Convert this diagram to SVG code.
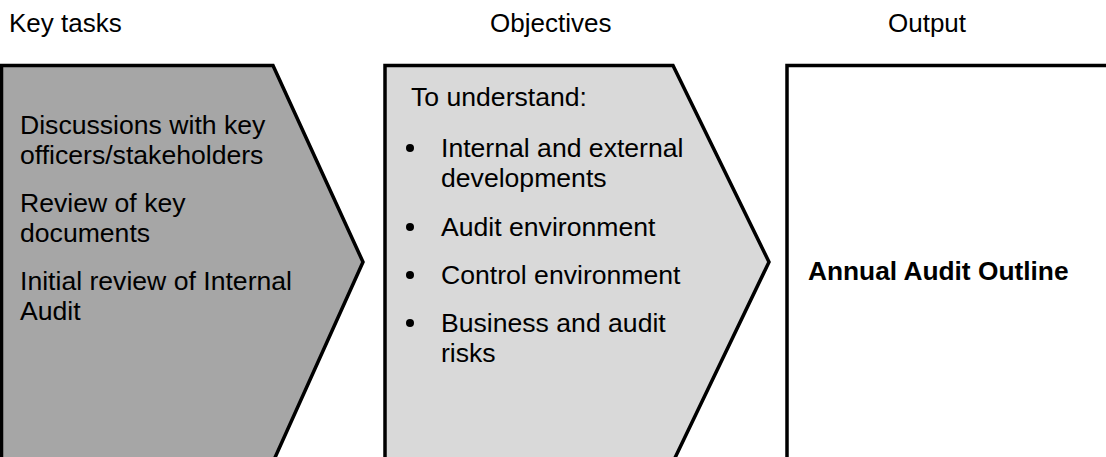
<svg xmlns="http://www.w3.org/2000/svg" width="1106" height="457" viewBox="0 0 1106 457">
  <style>
    text { font-family: "Liberation Sans", Arial, sans-serif; font-size: 26.6px; fill: #000; }
    .head { font-size: 26px; }
    .bold { font-weight: bold; font-size: 26.3px; }
    .shape { stroke: #000; stroke-width: 3.5; stroke-linejoin: miter; }
    .dark { fill: #a6a6a6; }
    .light { fill: #d9d9d9; }
    .white { fill: #fff; }
  </style>

  <!-- column headings -->
  <g id="headings">
    <text class="head" x="9" y="32">Key tasks</text>
    <text class="head" x="490" y="32">Objectives</text>
    <text class="head" x="888" y="32">Output</text>
  </g>

  <!-- key tasks chevron -->
  <g id="key-tasks">
    <polygon class="shape dark" points="1.5,65.5 273,65.5 363,262 273,462 1.5,462"/>
    <text x="20" y="134">Discussions with key</text>
    <text x="20" y="164">officers/stakeholders</text>
    <text x="20" y="212">Review of key</text>
    <text x="20" y="242">documents</text>
    <text x="20" y="290">Initial review of Internal</text>
    <text x="20" y="320">Audit</text>
  </g>

  <!-- objectives chevron -->
  <g id="objectives">
    <polygon class="shape light" points="385,65.5 673,65.5 769,262 673,462 385,462"/>
    <text x="411" y="106">To understand:</text>
    <g fill="#000">
      <circle cx="410" cy="148" r="4"/>
      <circle cx="410" cy="227" r="4"/>
      <circle cx="410" cy="275" r="4"/>
      <circle cx="410" cy="323" r="4"/>
    </g>
    <text x="441" y="157">Internal and external</text>
    <text x="441" y="187">developments</text>
    <text x="441" y="236">Audit environment</text>
    <text x="441" y="284">Control environment</text>
    <text x="441" y="332">Business and audit</text>
    <text x="441" y="362">risks</text>
  </g>

  <!-- output box -->
  <g id="output">
    <rect class="shape white" x="787" y="65.5" width="330" height="400"/>
    <text class="bold" x="808" y="280">Annual Audit Outline</text>
  </g>

  <g id="connectors"></g>
</svg>
